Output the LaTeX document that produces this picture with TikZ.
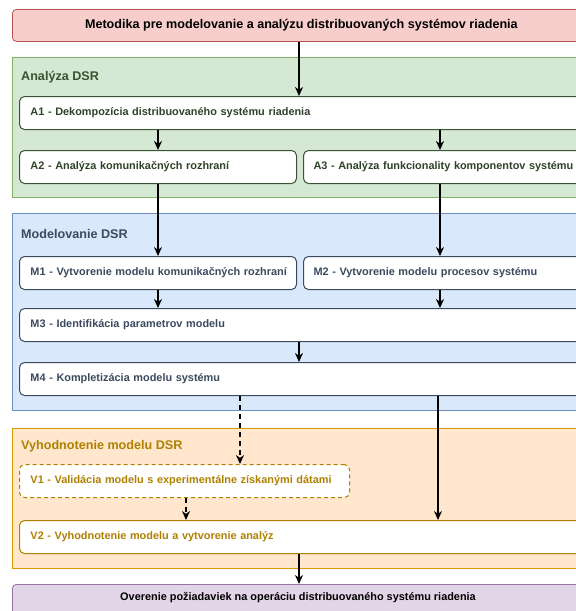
\documentclass[tikz,border=0pt]{standalone}
\usepackage{fontspec}
\setmainfont{Liberation Sans}
\usetikzlibrary{arrows.meta}
\definecolor{redfill}{HTML}{F8CECC}
\definecolor{redline}{HTML}{B85450}
\definecolor{greenfill}{HTML}{D5E8D4}
\definecolor{greenline}{HTML}{82B366}
\definecolor{greentext}{HTML}{3A5431}
\definecolor{bluefill}{HTML}{DAE8FC}
\definecolor{blueline}{HTML}{6C8EBF}
\definecolor{bluetext}{HTML}{3B4A5E}
\definecolor{orangefill}{HTML}{FFE6CC}
\definecolor{orangeline}{HTML}{D79B00}
\definecolor{orangetext}{HTML}{AE8100}
\definecolor{purplefill}{HTML}{E1D5E7}
\definecolor{purpleline}{HTML}{9673A6}
\tikzset{
  region/.style={draw, line width=0.8pt, anchor=north west, inner sep=0pt},
  reglabel/.style={anchor=west, inner sep=0pt, font=\bfseries\fontsize{12.6}{14}\selectfont},
  stepbox/.style={draw, fill=white, rounded corners=5pt, line width=1pt, anchor=north west,
    minimum height=33pt, inner xsep=11pt, inner ysep=0pt, align=left,
    font=\bfseries\fontsize{10.9}{12}\selectfont},
  arr/.style={line width=1.5pt, -{Stealth[length=9pt,width=8pt]}},
  darr/.style={arr, dash pattern=on 5pt off 4pt},
}
\begin{document}
\begin{tikzpicture}[x=1pt,y=-1pt]
\useasboundingbox (0,0) rectangle (576,611);
\clip (0,0) rectangle (576,611);
% column coordinates
\coordinate (xl) at (158,0);
\coordinate (xm) at (299,0);
\coordinate (xr) at (440,0);
\coordinate (xv) at (240,0);
\coordinate (xw) at (186,0);
\coordinate (xq) at (438,0);
% top box
\node[draw=redline, fill=redfill, rounded corners=4pt, line width=0.8pt, anchor=north west,
  minimum width=578pt, minimum height=32pt, inner sep=0pt,
  font=\bfseries\fontsize{12.6}{14}\selectfont] (top) at (12,9)
  {Metodika pre modelovanie a analýzu distribuovaných systémov riadenia};
% regions
\node[region, draw=greenline, fill=greenfill, minimum width=580pt, minimum height=140pt] (rga) at (12,57) {};
\node[reglabel, text=greentext] (lga) at (21,77) {Analýza DSR};
\node[region, draw=blueline, fill=bluefill, minimum width=580pt, minimum height=197pt] (rgm) at (12,213) {};
\node[reglabel, text=bluetext] (lgm) at (21,234) {Modelovanie DSR};
\node[region, draw=orangeline, fill=orangefill, minimum width=580pt, minimum height=140pt] (rgv) at (12,428) {};
\node[reglabel, text=orangetext] (lgv) at (21,446) {Vyhodnotenie modelu DSR};
% bottom box
\node[draw=purpleline, fill=purplefill, rounded corners=4pt, line width=0.8pt, anchor=north west,
  minimum width=578pt, minimum height=40pt, inner sep=0pt] (bot) at (12,584) {};
\node[font=\bfseries\fontsize{10.9}{12}\selectfont] (bottxt) at (298,598)
  {Overenie požiadaviek na operáciu distribuovaného systému riadenia};
% analysis boxes
\node[stepbox, draw=greentext, text=greentext!80!black, text width=545pt] (a1) at (19,96)
  {A1 - Dekompozícia distribuovaného systému riadenia};
\node[stepbox, draw=greentext, text=greentext!80!black, text width=255pt] (a2) at (19,150)
  {A2 - Analýza komunikačných rozhraní};
\node[stepbox, draw=greentext, text=greentext!80!black, inner xsep=10pt, text width=263pt] (a3) at (303,150)
  {\mbox{A3 - Analýza funkcionality komponentov systému}};
% modelling boxes
\node[stepbox, draw=bluetext, text=bluetext, text width=255pt] (m1) at (19,256)
  {\mbox{M1 - Vytvorenie modelu komunikačných rozhraní}};
\node[stepbox, draw=bluetext, text=bluetext, inner xsep=10pt, text width=263pt] (m2) at (303,256)
  {M2 - Vytvorenie modelu procesov systému};
\node[stepbox, draw=bluetext, text=bluetext, text width=545pt] (m3) at (19,308)
  {M3 - Identifikácia parametrov modelu};
\node[stepbox, draw=bluetext, text=bluetext, text width=545pt] (m4) at (19,362)
  {M4 - Kompletizácia modelu systému};
% evaluation boxes
\node[stepbox, draw=orangetext, text=orangetext, dash pattern=on 4pt off 3pt, text width=308pt] (v1) at (19,464)
  {V1 - Validácia modelu s experimentálne získanými dátami};
\node[stepbox, draw=orangetext, text=orangetext, text width=545pt] (v2) at (19,520)
  {V2 - Vyhodnotenie modelu a vytvorenie analýz};
% connectors
\draw[arr] (top.south -| xm) -- (a1.north -| xm);
\draw[arr] (a1.south -| xl) -- (a2.north -| xl);
\draw[arr] (a1.south -| xr) -- (a3.north -| xr);
\draw[arr] (a2.south -| xl) -- (m1.north -| xl);
\draw[arr] (a3.south -| xr) -- (m2.north -| xr);
\draw[arr] (m1.south -| xl) -- (m3.north -| xl);
\draw[arr] (m2.south -| xr) -- (m3.north -| xr);
\draw[arr] (m3.south -| xm) -- (m4.north -| xm);
\draw[darr] (m4.south -| xv) -- (v1.north -| xv);
\draw[arr] (m4.south -| xq) -- (v2.north -| xq);
\draw[darr] (v1.south -| xw) -- (v2.north -| xw);
\draw[arr] (v2.south -| xm) -- (bot.north -| xm);
\end{tikzpicture}
\end{document}
